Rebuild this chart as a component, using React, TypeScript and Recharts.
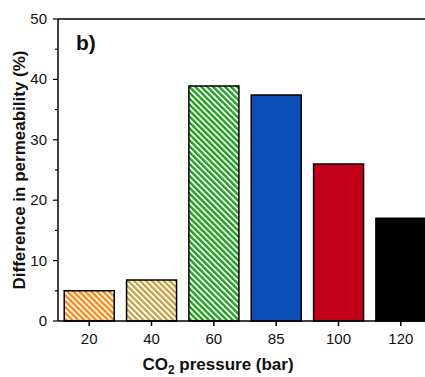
import { Bar, BarChart, Cell, ReferenceLine, XAxis, YAxis } from "recharts";

const pressures = ["20", "40", "60", "85", "100", "120"];
const difference = [5.0, 6.8, 38.9, 37.4, 26.0, 17.0];
const barFills = ["url(#hatchOrange)", "url(#hatchTan)", "url(#hatchGreen)", "#0a4db4", "#c2001a", "#000000"];
const yTicks = [0, 5, 10, 15, 20, 25, 30, 35, 40, 45, 50];

const data = pressures.map((p, i) => ({ pressure: p, diff: difference[i] }));

const font = "'Liberation Sans', Arial, sans-serif";

function YTick(props: any) {
    const { x, y, payload } = props;
    const major = payload.value % 10 === 0;
    const axisX = x + 8;
    return (
        <g>
            <line x1={axisX - (major ? 5 : 3)} x2={axisX} y1={y} y2={y} stroke="#000" strokeWidth={1.2} />
            {major && (
                <text x={axisX - 11} y={y} dy={5} textAnchor="end" fontSize={15} fontFamily={font} fill="#111">
                    {payload.value}
                </text>
            )}
        </g>
    );
}

function XTitle() {
    return (
        <text x={218} y={370} textAnchor="middle" fontSize={17} fontWeight="bold" fontFamily={font} fill="#111">
            CO<tspan fontSize={12} dy={4}>2</tspan>
            <tspan dy={-4}> pressure (bar)</tspan>
        </text>
    );
}

function YTitle() {
    return (
        <text x={25} y={170} transform="rotate(-90, 25, 170)" textAnchor="middle" fontSize={17} fontWeight="bold" fontFamily={font} fill="#111">
            Difference in permeability (%)
        </text>
    );
}

function Hatch({ id, color }: { id: string; color: string }) {
    return (
        <pattern id={id} width={4.2} height={4.2} patternUnits="userSpaceOnUse" patternTransform="rotate(-45)">
            <rect width={4.2} height={4.2} fill="#ffffff" />
            <rect width={2.4} height={4.2} fill={color} />
        </pattern>
    );
}

export default function App() {
    return (
        <div style={{ position: "absolute", left: 0, top: 0, width: 425, height: 377, overflow: "hidden", background: "#fff" }}>
            <BarChart
                width={432}
                height={377}
                data={data}
                margin={{ top: 19, right: 0, left: 0, bottom: 26 }}
                barCategoryGap="10%"
            >
                <defs>
                    <Hatch id="hatchOrange" color="#ff8a12" />
                    <Hatch id="hatchTan" color="#c9a443" />
                    <Hatch id="hatchGreen" color="#1ea31e" />
                </defs>
                <XAxis
                    dataKey="pressure"
                    height={30}
                    stroke="#000"
                    strokeWidth={1.5}
                    tickSize={5}
                    tickMargin={7}
                    tick={{ fontSize: 15, fontFamily: font, fill: "#111" }}
                    label={{ content: XTitle }}
                />
                <YAxis
                    width={58}
                    domain={[0, 50]}
                    ticks={yTicks}
                    interval={0}
                    stroke="#000"
                    strokeWidth={1.5}
                    tickLine={false}
                    tickSize={5}
                    tickMargin={3}
                    tick={YTick}
                    label={{ content: YTitle }}
                />
                <ReferenceLine y={50} stroke="#000" strokeWidth={1.5} ifOverflow="visible" />
                <Bar dataKey="diff" stroke="#000" strokeWidth={1.5} isAnimationActive={false}>
                    {data.map((d, i) => (
                        <Cell key={d.pressure} fill={barFills[i]} />
                    ))}
                </Bar>
            </BarChart>
            <div style={{ position: "absolute", left: 76, top: 31, fontSize: 21, fontWeight: "bold", fontFamily: font, color: "#111" }}>
                b)
            </div>
        </div>
    );
}
